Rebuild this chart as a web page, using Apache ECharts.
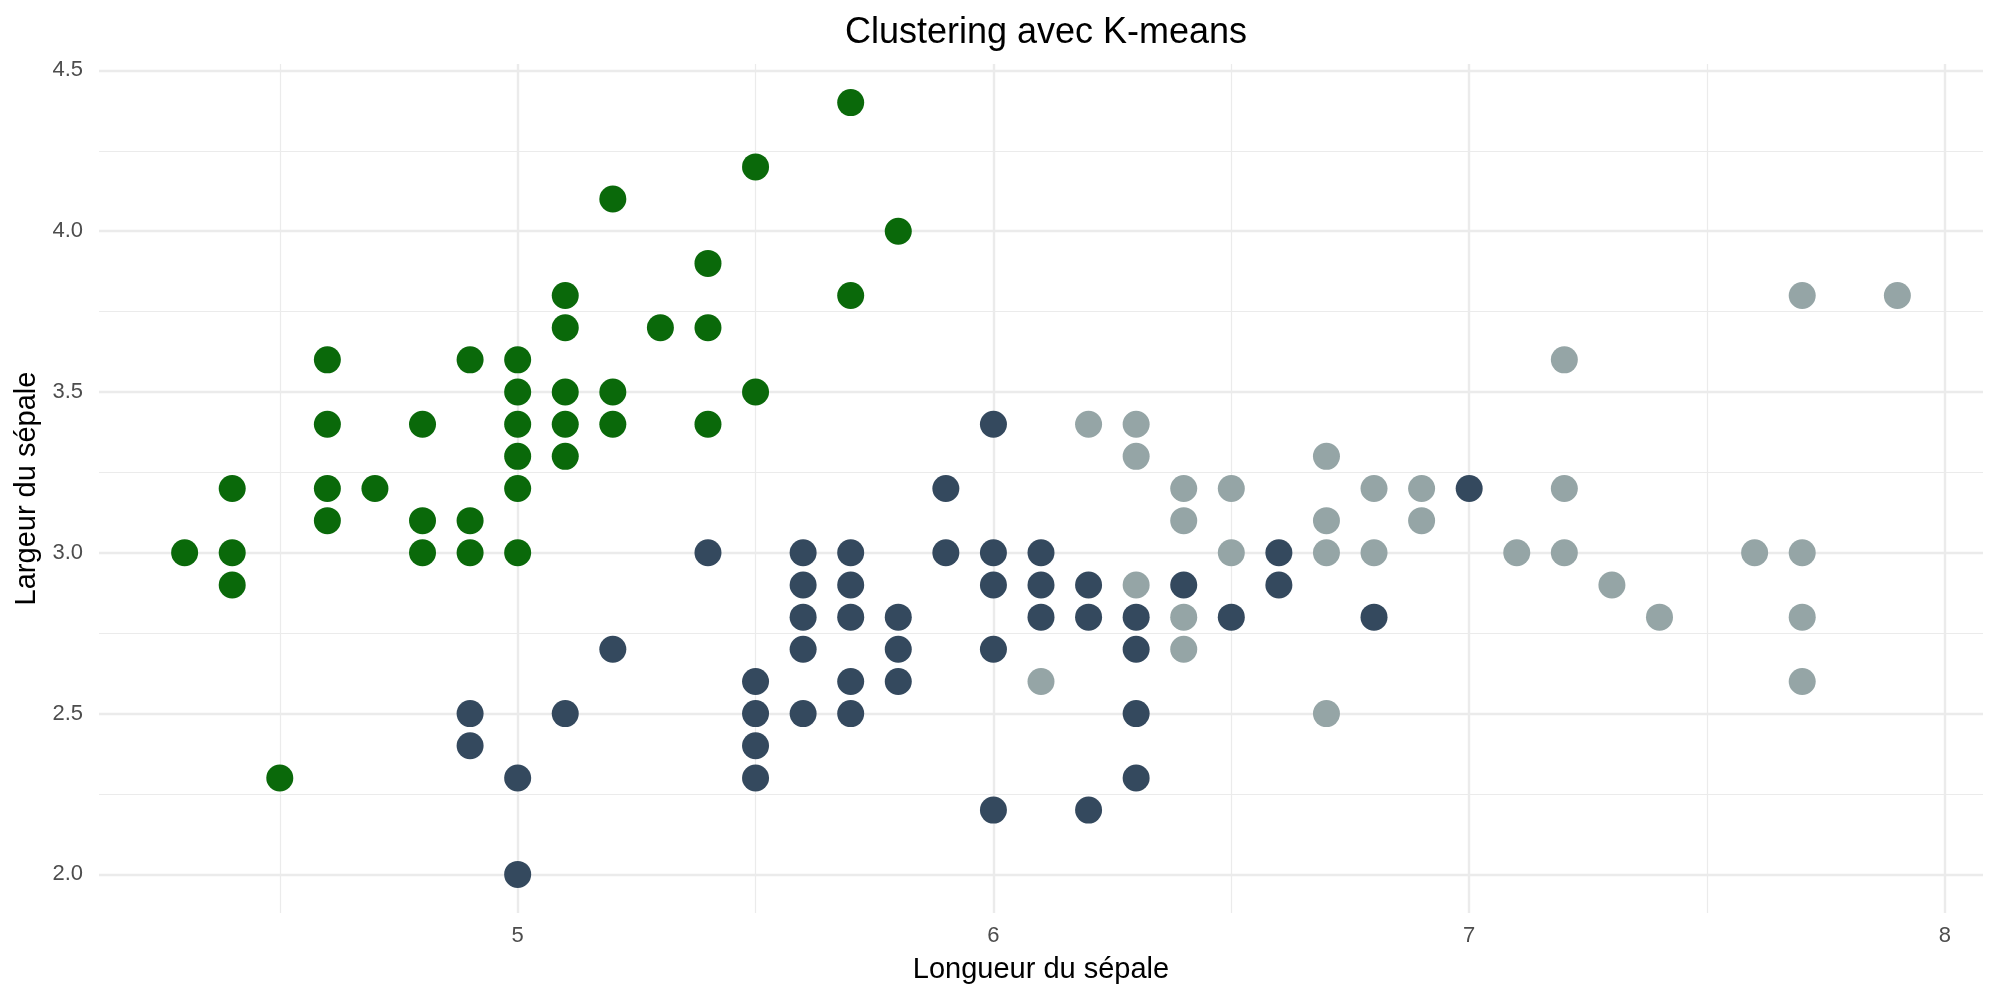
<!DOCTYPE html>
<html>
<head>
  <meta charset="utf-8">
  <script src="https://cdn.jsdelivr.net/npm/echarts@6/dist/echarts.min.js"></script>
  <style>
    html, body { margin: 0; padding: 0; background: #fff; }
  </style>
</head>
<body>
  <div id="main" style="width: 2000px;height:1000px;"></div>
  <script type="text/javascript">

  // [longueur, largeur] par cluster
  var cluster1 = [
    [4.3, 3.0], [4.4, 3.2], [4.4, 3.0], [4.4, 2.9], [4.5, 2.3],
    [4.6, 3.6], [4.6, 3.4], [4.6, 3.2], [4.6, 3.1], [4.7, 3.2],
    [4.8, 3.4], [4.8, 3.1], [4.8, 3.0], [4.9, 3.6], [4.9, 3.1], [4.9, 3.0],
    [5.0, 3.6], [5.0, 3.5], [5.0, 3.4], [5.0, 3.3], [5.0, 3.2], [5.0, 3.0],
    [5.1, 3.8], [5.1, 3.7], [5.1, 3.5], [5.1, 3.4], [5.1, 3.3],
    [5.2, 4.1], [5.2, 3.5], [5.2, 3.4], [5.3, 3.7],
    [5.4, 3.9], [5.4, 3.7], [5.4, 3.4], [5.5, 4.2], [5.5, 3.5],
    [5.7, 4.4], [5.7, 3.8], [5.8, 4.0]
  ];
  var cluster2 = [
    [4.9, 2.5], [4.9, 2.4], [5.0, 2.3], [5.0, 2.0], [5.1, 2.5], [5.2, 2.7],
    [5.4, 3.0], [5.5, 2.6], [5.5, 2.5], [5.5, 2.4], [5.5, 2.3],
    [5.6, 3.0], [5.6, 2.9], [5.6, 2.8], [5.6, 2.7], [5.6, 2.5],
    [5.7, 3.0], [5.7, 2.9], [5.7, 2.8], [5.7, 2.6], [5.7, 2.5],
    [5.8, 2.8], [5.8, 2.7], [5.8, 2.6], [5.9, 3.2], [5.9, 3.0],
    [6.0, 3.4], [6.0, 3.0], [6.0, 2.9], [6.0, 2.7], [6.0, 2.2],
    [6.1, 3.0], [6.1, 2.9], [6.1, 2.8], [6.2, 2.9], [6.2, 2.8], [6.2, 2.2],
    [6.3, 2.8], [6.3, 2.7], [6.3, 2.5], [6.3, 2.3], [6.4, 2.9], [6.5, 2.8],
    [6.6, 3.0], [6.6, 2.9], [6.8, 2.8], [7.0, 3.2]
  ];
  var cluster3 = [
    [6.1, 2.6], [6.2, 3.4], [6.3, 3.4], [6.3, 3.3], [6.3, 2.9],
    [6.4, 3.2], [6.4, 3.1], [6.4, 2.8], [6.4, 2.7], [6.5, 3.2], [6.5, 3.0],
    [6.7, 3.3], [6.7, 3.1], [6.7, 3.0], [6.7, 2.5], [6.8, 3.2], [6.8, 3.0],
    [6.9, 3.2], [6.9, 3.1], [7.1, 3.0], [7.2, 3.6], [7.2, 3.2], [7.2, 3.0],
    [7.3, 2.9], [7.4, 2.8], [7.6, 3.0], [7.7, 3.8], [7.7, 3.0], [7.7, 2.8],
    [7.7, 2.6], [7.9, 3.8]
  ];

  var xMajor = [5, 6, 7, 8];
  var xMinor = [4.5, 5.5, 6.5, 7.5];
  var yMajor = [2.0, 2.5, 3.0, 3.5, 4.0, 4.5];
  var yMinor = [2.25, 2.75, 3.25, 3.75, 4.25];

  var font = 'Liberation Sans, Arial, sans-serif';
  var gridColor = '#EBEBEB';

  var myChart = echarts.init(document.getElementById('main'));

  // axe principal (labels + grille majeure) et axe muet (grille mineure)
  function axisPair(pos, opp, min, max, major, minor, margin, fmt) {
    var main = {
      type: 'value', min: min, max: max, gridIndex: 0, position: pos,
      axisLine: { show: false },
      axisTick: { show: false, customValues: major },
      axisLabel: {
        customValues: major, color: '#4D4D4D', fontSize: 22, fontFamily: font,
        margin: margin, formatter: fmt
      },
      splitLine: { show: true, lineStyle: { color: gridColor, width: 2.4 } }
    };
    var sub = {
      type: 'value', min: min, max: max, gridIndex: 0, position: opp,
      axisLine: { show: false },
      axisTick: { show: false, customValues: minor },
      axisLabel: { show: false },
      splitLine: { show: true, lineStyle: { color: gridColor, width: 1.2 } }
    };
    return [sub, main];
  }

  var xs = axisPair('bottom', 'top', 4.12, 8.08, xMajor, xMinor, 12, function (v) { return String(v); });
  var ys = axisPair('left', 'right', 1.88, 4.52, yMajor, yMinor, 16, function (v) { return v.toFixed(1); });
  xs[1].name = 'Longueur du sépale';
  xs[1].nameLocation = 'middle';
  xs[1].nameGap = 42;
  xs[1].nameTextStyle = { color: '#000', fontSize: 29, fontFamily: font };
  ys[1].name = 'Largeur du sépale';
  ys[1].nameLocation = 'middle';
  ys[1].nameGap = 57;
  ys[1].nameTextStyle = { color: '#000', fontSize: 29, fontFamily: font };

  function scatter(data, color) {
    return {
      type: 'scatter', xAxisIndex: 1, yAxisIndex: 1,
      data: data, symbolSize: 27,
      itemStyle: { color: color, opacity: 1 }
    };
  }

  option = {
    animation: false,
    backgroundColor: '#fff',
    title: {
      text: 'Clustering avec K-means',
      left: 1041, top: 10, textAlign: 'center',
      textStyle: { color: '#000', fontSize: 36, fontWeight: 'normal', fontFamily: font }
    },
    grid: { left: 99, right: 17, top: 64, bottom: 87, outerBoundsMode: 'none' },
    xAxis: xs,
    yAxis: ys,
    series: [
      scatter(cluster1, '#0A690A'),
      scatter(cluster2, '#34495E'),
      scatter(cluster3, '#95A5A6')
    ]
  };

  myChart.setOption(option);

  </script>
</body>
</html>
